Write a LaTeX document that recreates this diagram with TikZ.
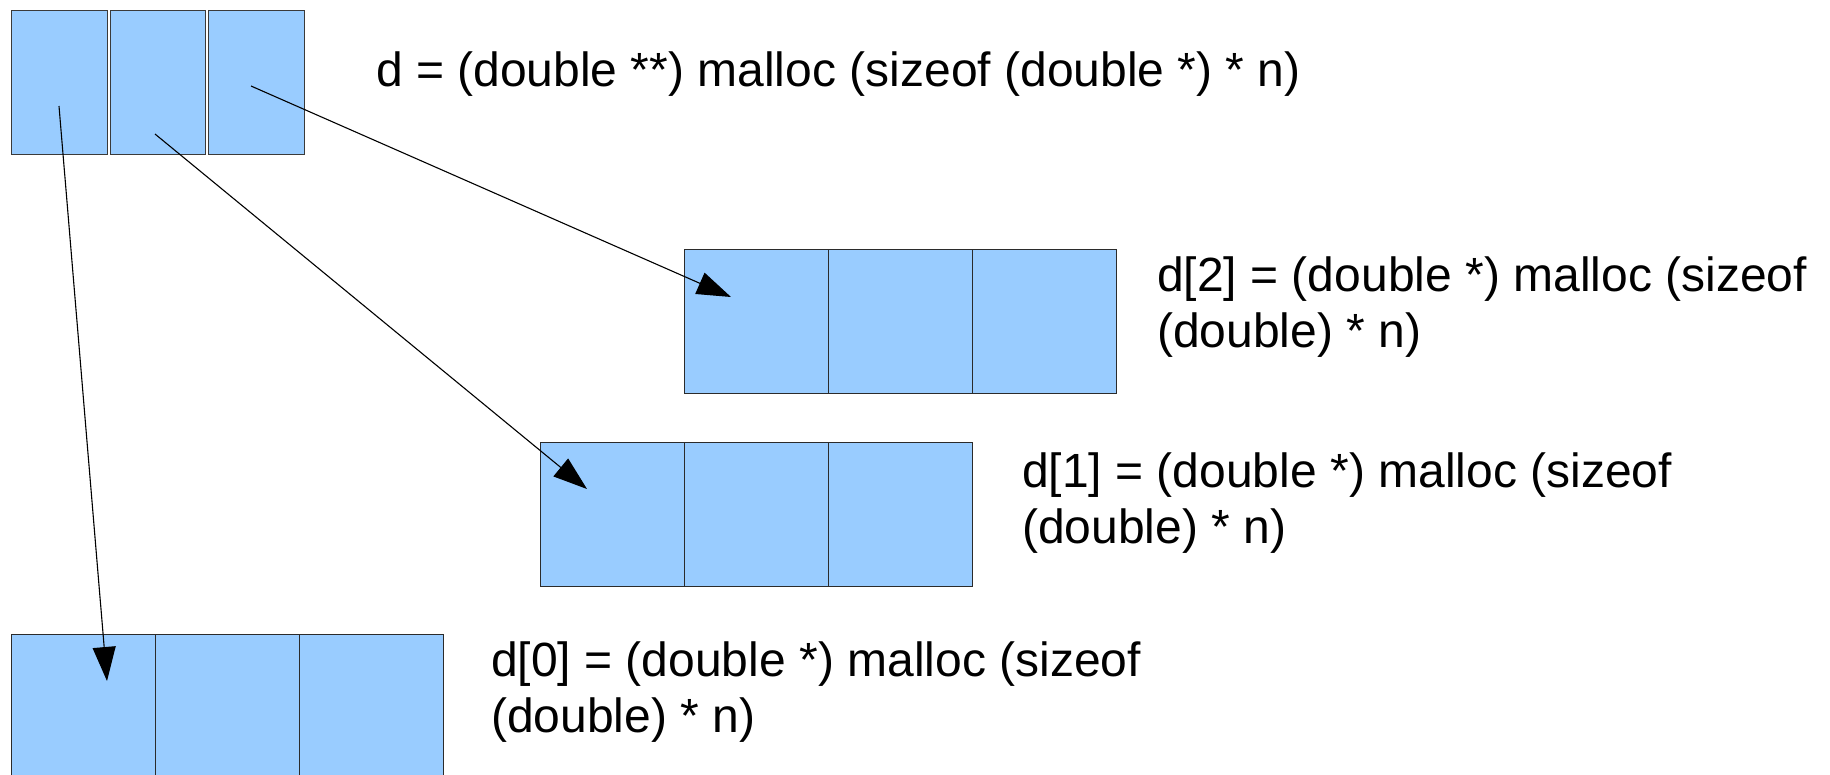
\documentclass[tikz,border=0pt]{standalone}
\usepackage{fontspec}
\setmainfont{Liberation Sans}
\usetikzlibrary{arrows.meta,calc}
\definecolor{cellfill}{HTML}{99CCFF}
\definecolor{cellline}{HTML}{2B2B2B}
\definecolor{ptrline}{HTML}{3A3A3A}
\tikzset{
  cell/.style={draw=cellline, fill=cellfill, line width=1.4pt, inner sep=0pt,
    anchor=north west, minimum height=144pt},
  ptrcell/.style={cell, draw=ptrline, line width=1.2pt},
  datacell/.style={cell, minimum width=144pt},
  ptrarrow/.style={draw=black, line width=1.1pt,
    -{Triangle[length=34pt, width=23pt]}},
  code/.style={anchor=base west, inner sep=0pt, align=left,
    font=\fontsize{48}{56}\selectfont}
}
\begin{document}
\begin{tikzpicture}[x=1pt, y=-1pt]
  \useasboundingbox (0,0) rectangle (1830,774);
  \clip (0,0) rectangle (1830,774);

  % array of row pointers
  \node[ptrcell, minimum width=96pt] (p0) at (11,10) {};
  \node[ptrcell, minimum width=95.5pt] (p1) at (109.5,10) {};
  \node[ptrcell, minimum width=96.5pt] (p2) at (207.5,10) {};

  % row 2
  \node[datacell] (r2c0) at (684,249) {};
  \node[datacell] (r2c1) at (828,249) {};
  \node[datacell] (r2c2) at (972,249) {};

  % row 1
  \node[datacell] (r1c0) at (540,442) {};
  \node[datacell] (r1c1) at (684,442) {};
  \node[datacell] (r1c2) at (828,442) {};

  % row 0
  \node[datacell] (r0c0) at (11,634) {};
  \node[datacell] (r0c1) at (155,634) {};
  \node[datacell] (r0c2) at (299,634) {};

  % pointer tails and heads
  \coordinate (s0) at ($(p0.north west)+(48,96)$);
  \coordinate (s1) at ($(p1.north west)+(45.5,124)$);
  \coordinate (s2) at ($(p2.north west)+(43.5,76)$);
  \coordinate (e0) at ($(r0c0.north west)+(96,47)$);
  \coordinate (e1) at ($(r1c0.north west)+(47,47)$);
  \coordinate (e2) at ($(r2c0.north west)+(47,48)$);

  \draw[ptrarrow] (s0) -- (e0);
  \draw[ptrarrow] (s1) -- (e1);
  \draw[ptrarrow] (s2) -- (e2);

  % allocation statements (base anchor sits on the last line)
  \node[code] (t) at (376,86) {d = (double **) malloc (sizeof (double *) * n)};
  \node[code] (t2) at (1157,347) {d[2] = (double *) malloc (sizeof\\(double) * n)};
  \node[code] (t1) at (1022,543) {d[1] = (double *) malloc (sizeof\\(double) * n)};
  \node[code] (t0) at (491,732) {d[0] = (double *) malloc (sizeof\\(double) * n)};
\end{tikzpicture}
\end{document}
